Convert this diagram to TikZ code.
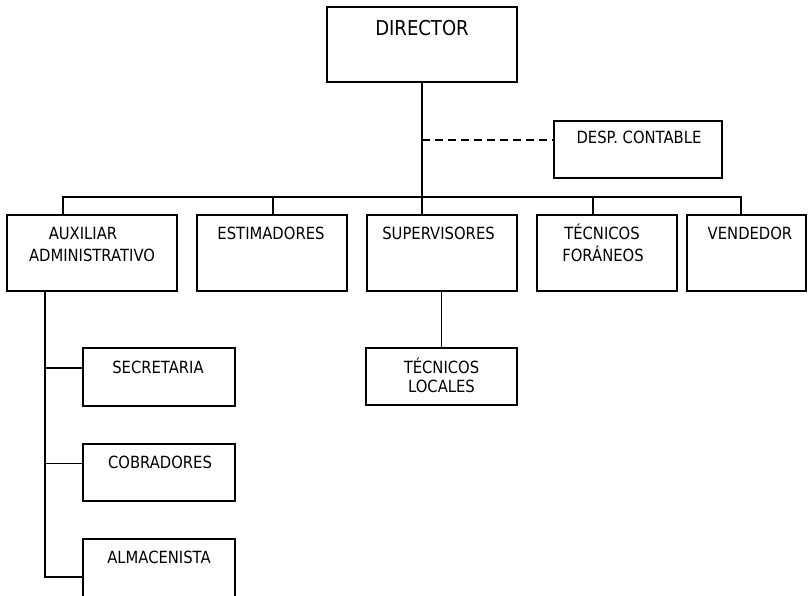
\documentclass[tikz,border=0pt]{standalone}
\usepackage{fontspec}
\setmainfont{DejaVu Sans}[FakeStretch=0.88]
\usetikzlibrary{calc}
\begin{document}
\begin{tikzpicture}[x=1pt,y=-1pt,
  box/.style={draw=black, line width=1.3pt, rectangle, inner sep=0pt, fill=white},
  lbl/.style={anchor=base, inner sep=0pt, font=\fontsize{16.8}{20}\selectfont},
  biglbl/.style={lbl, font=\fontsize{20.5}{24}\selectfont},
  link/.style={draw=black, line width=1.3pt},
  dashlink/.style={link, dash pattern=on 8pt off 5pt}]
\useasboundingbox (0,0) rectangle (812,595);
\clip (0,0) rectangle (812,595);
\fill[white] (0,0) rectangle (812,595);
% boxes
\node[box, minimum width=190pt, minimum height=75pt] (dir) at (422,44.5) {};
\node[box, minimum width=168pt, minimum height=57pt] (desp) at (638,149.5) {};
\node[box, minimum width=170pt, minimum height=76pt] (aux) at (92,253) {};
\node[box, minimum width=150pt, minimum height=76pt] (est) at (272,253) {};
\node[box, minimum width=150pt, minimum height=76pt] (sup) at (442,253) {};
\node[box, minimum width=140pt, minimum height=76pt] (tf) at (607,253) {};
\node[box, minimum width=119pt, minimum height=76pt] (ven) at (746.5,253) {};
\node[box, minimum width=152pt, minimum height=58pt] (sec) at (159,377) {};
\node[box, minimum width=152pt, minimum height=57pt] (cob) at (159,472.5) {};
\node[box, minimum width=152pt, minimum height=76pt] (alm) at (159,577) {};
\node[box, minimum width=151pt, minimum height=57pt] (tl) at (441.5,376.5) {};
% labels
\node[biglbl] (dirT) at ($(dir.north)+(0,29.2)$) {DIRECTOR};
\node[lbl] (despT) at ($(desp.north)+(1,23.5)$) {DESP. CONTABLE};
\node[lbl] (auxT1) at ($(aux.north)+(-9,25)$) {AUXILIAR};
\node[lbl] (auxT2) at ($(aux.north)+(0,47)$) {ADMINISTRATIVO};
\node[lbl] (estT) at ($(est.north)+(-1,25)$) {ESTIMADORES};
\node[lbl] (supT) at ($(sup.north)+(-3.5,25)$) {SUPERVISORES};
\node[lbl] (tfT1) at ($(tf.north)+(-5,25)$) {TÉCNICOS};
\node[lbl] (tfT2) at ($(tf.north)+(-4,47)$) {FORÁNEOS};
\node[lbl] (venT) at ($(ven.north)+(3.5,25)$) {VENDEDOR};
\node[lbl] (secT) at ($(sec.north)+(-1,26)$) {SECRETARIA};
\node[lbl] (cobT) at ($(cob.north)+(1,25)$) {COBRADORES};
\node[lbl] (almT) at ($(alm.north)+(0,25.5)$) {ALMACENISTA};
\node[lbl] (tlT1) at ($(tl.north)+(0,26.5)$) {TÉCNICOS};
\node[lbl] (tlT2) at ($(tl.north)+(0,45.5)$) {LOCALES};
% connectors
\coordinate (busY) at (0,197);
\draw[link] (dir.south) -- (dir.south |- sup.north);
\coordinate (dj) at ($(desp.west)+(0,-9.5)$);
\draw[dashlink] (dir.south |- dj) -- (dj);
\draw[link] ([xshift=-29pt]aux.north) -- ([xshift=-29pt]aux.north |- busY)
  -- ([xshift=-5.5pt]ven.north |- busY) -- ([xshift=-5.5pt]ven.north);
\draw[link] ([xshift=1pt]est.north) -- ([xshift=1pt]est.north |- busY);
\draw[link] ([xshift=-14pt]tf.north) -- ([xshift=-14pt]tf.north |- busY);
\coordinate (ax) at ([xshift=-47pt]aux.south);
\draw[link] (ax) |- (alm.west);
\coordinate (sj) at ($(sec.west)+(0,-9)$);
\coordinate (cj) at ($(cob.west)+(0,-9)$);
\draw[link] (ax |- sj) -- (sj);
\draw[link] (ax |- cj) -- (cj);
\draw[link] (tl.north) -- (tl.north |- sup.south);
\end{tikzpicture}
\end{document}
